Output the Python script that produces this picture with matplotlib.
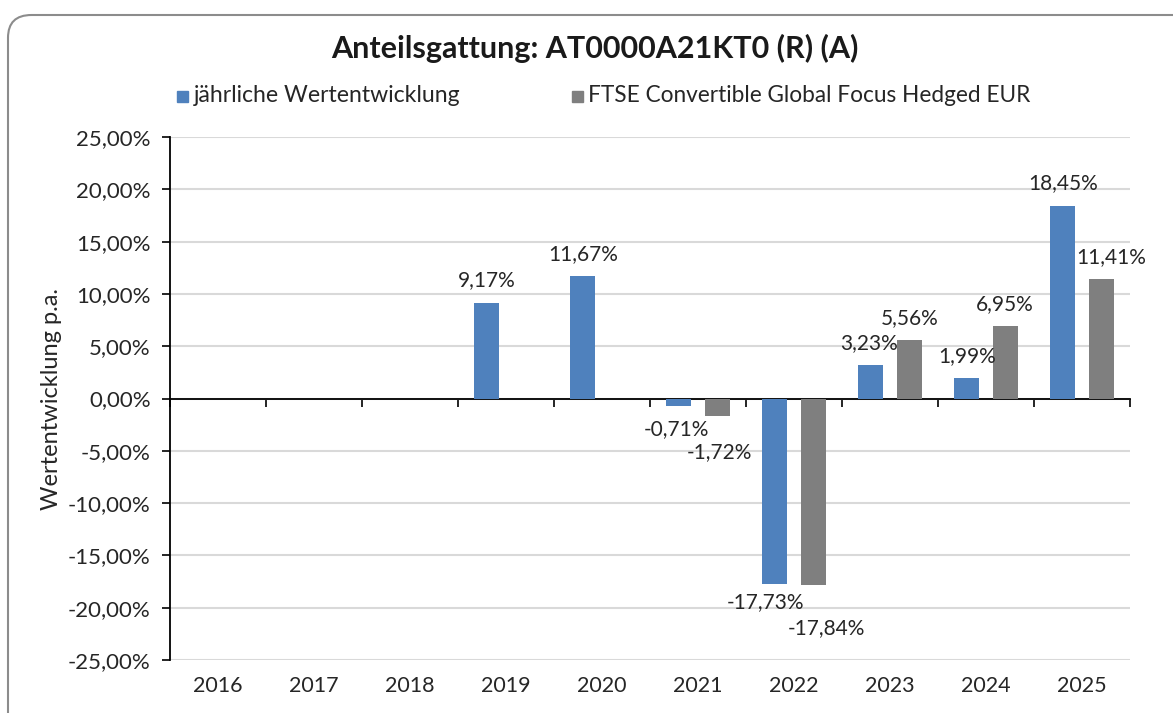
import numpy as np
import matplotlib.pyplot as plt
from matplotlib.patches import FancyBboxPatch
from matplotlib.ticker import FuncFormatter
import matplotlib.transforms as mtransforms

plt.rcParams['font.family'] = ['Lato', 'DejaVu Sans']

years = ["2016", "2017", "2018", "2019", "2020", "2021", "2022", "2023", "2024", "2025"]
fund = [np.nan, np.nan, np.nan, 9.17, 11.67, -0.71, -17.73, 3.23, 1.99, 18.45]
bench = [np.nan, np.nan, np.nan, np.nan, np.nan, -1.72, -17.84, 5.56, 6.95, 11.41]

title = "Anteilsgattung: AT0000A21KT0 (R) (A)"
fund_name = "jährliche Wertentwicklung"
bench_name = "FTSE Convertible Global Focus Hedged EUR"
ylabel = "Wertentwicklung p.a."

blue = "#4F81BD"
grey = "#7F7F7F"
txt = "#262626"


def pct(v):
    return f"{v:.2f}".replace(".", ",") + "%"


fig = plt.figure(figsize=(11.73, 7.13), dpi=100)
# rounded chart border (cropped at right and bottom)
border = FancyBboxPatch((8 / 1173, -0.05), 1.2, 1.05 - 15 / 713,
                        boxstyle="round,pad=0,rounding_size=0.02",
                        transform=fig.transFigure, fill=False,
                        edgecolor="#8C8C8C", linewidth=1.5, mutation_aspect=1.6)
fig.patches.append(border)

ax = fig.add_axes([170 / 1173, 1 - 660 / 713, (1130 - 170) / 1173, (660 - 137) / 713])

x = np.arange(len(years))
w = 0.26
ax.bar(x - 0.2, fund, w, color=blue, zorder=3)
ax.bar(x + 0.2, bench, w, color=grey, zorder=3)

ax.set_xlim(-0.5, len(years) - 0.5)
ax.set_ylim(-25, 25)
ax.set_yticks(np.arange(-25, 26, 5))
ax.yaxis.set_major_formatter(FuncFormatter(lambda v, p: pct(v)))
ax.tick_params(axis="y", direction="out", length=6, width=1.2, labelsize=16,
               labelcolor=txt, pad=8)
ax.grid(axis="y", color="#D9D9D9", linewidth=1.5, zorder=0)

# x axis sits on zero, ticks between categories
for s in ["top", "right"]:
    ax.spines[s].set_visible(False)
ax.spines["bottom"].set_position(("data", 0))
ax.spines["left"].set_linewidth(1.3)
ax.spines["bottom"].set_linewidth(1.3)
ax.set_xticks(np.arange(len(years) + 1) - 0.5)
ax.set_xticklabels([])
ax.tick_params(axis="x", direction="out", length=6, width=1.2)

trans = mtransforms.blended_transform_factory(ax.transData, ax.transAxes)
for i, yr in enumerate(years):
    ax.text(i, -0.03, yr, transform=trans, ha="center", va="top",
            fontsize=15.5, color=txt)

ax.set_ylabel(ylabel, fontsize=17, color=txt)
ax.yaxis.set_label_coords(-0.113, 0.5)

# value labels, pixel offsets of label centre (mimic Excel placement)
fund_off = {5: (-2, -23), 6: (-9, -18), 7: (-2, 22)}
bench_off = {5: (2, -36), 6: (13, -43), 9: (10, 22)}
for vals, shift, offs in [(fund, -0.2, fund_off), (bench, 0.2, bench_off)]:
    for i, v in enumerate(vals):
        if np.isnan(v):
            continue
        dx, dy = offs.get(i, (0, 22))
        ax.annotate(pct(v), (i + shift, v), xytext=(dx, dy), textcoords="offset pixels",
                    ha="center", va="center", fontsize=15, color=txt, zorder=4)

fig.text(595 / 1173, 1 - 48 / 713, title, ha="center", va="center",
         fontsize=22, fontweight="bold", color="#1A1A1A")

# legend
fig.patches.append(plt.Rectangle((177 / 1173, 1 - 102 / 713), 11 / 1173, 11 / 713,
                                 transform=fig.transFigure, color=blue))
fig.text(194 / 1173, 1 - 96 / 713, fund_name, ha="left", va="center",
         fontsize=16.6, color=txt)
fig.patches.append(plt.Rectangle((572 / 1173, 1 - 102 / 713), 11 / 1173, 11 / 713,
                                 transform=fig.transFigure, color=grey))
fig.text(588 / 1173, 1 - 96 / 713, bench_name, ha="left", va="center",
         fontsize=16.3, color=txt)

fig.savefig("out.png", dpi=100)
